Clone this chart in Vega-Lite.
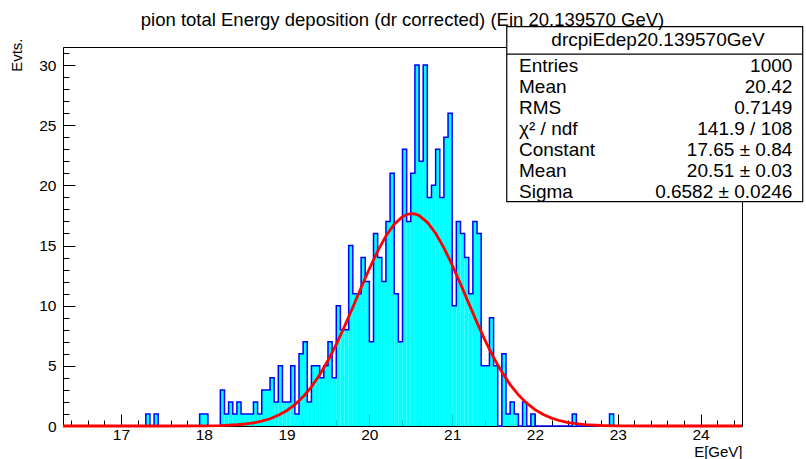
{
  "$schema": "https://vega.github.io/schema/vega-lite/v6.json",
  "width": 679,
  "height": 379,
  "autosize": {"type": "none"},
  "padding": {"left": 63, "top": 47, "right": 64, "bottom": 33},
  "background": "white",
  "config": {"view": {"stroke": "black", "strokeWidth": 1}, "font": "Liberation Sans"},
  "title": {"text": "pion total Energy deposition (dr corrected) (Ein 20.139570 GeV)", "font": "Liberation Sans", "fontSize": 18.5, "fontWeight": "normal", "color": "black", "anchor": "middle", "frame": "group", "baseline": "bottom", "offset": -22},
  "datasets": {
    "hist": [
      {"lo": 17.25, "hi": 17.30, "n": 0}, {"lo": 17.30, "hi": 17.35, "n": 1}, {"lo": 17.35, "hi": 17.40, "n": 0}, {"lo": 17.40, "hi": 17.45, "n": 1}, {"lo": 17.45, "hi": 17.50, "n": 0},
      {"lo": 17.95, "hi": 18.00, "n": 1}, {"lo": 18.00, "hi": 18.05, "n": 1}, {"lo": 18.05, "hi": 18.10, "n": 0},
      {"lo": 18.20, "hi": 18.25, "n": 3}, {"lo": 18.25, "hi": 18.30, "n": 1}, {"lo": 18.30, "hi": 18.35, "n": 2}, {"lo": 18.35, "hi": 18.40, "n": 1}, {"lo": 18.40, "hi": 18.45, "n": 2},
      {"lo": 18.45, "hi": 18.50, "n": 1}, {"lo": 18.50, "hi": 18.55, "n": 1}, {"lo": 18.55, "hi": 18.60, "n": 1}, {"lo": 18.60, "hi": 18.65, "n": 2}, {"lo": 18.65, "hi": 18.70, "n": 1},
      {"lo": 18.70, "hi": 18.75, "n": 3}, {"lo": 18.75, "hi": 18.80, "n": 3}, {"lo": 18.80, "hi": 18.85, "n": 4}, {"lo": 18.85, "hi": 18.90, "n": 2}, {"lo": 18.90, "hi": 18.95, "n": 5},
      {"lo": 18.95, "hi": 19.00, "n": 2}, {"lo": 19.00, "hi": 19.05, "n": 2}, {"lo": 19.05, "hi": 19.10, "n": 5}, {"lo": 19.10, "hi": 19.15, "n": 1}, {"lo": 19.15, "hi": 19.20, "n": 6},
      {"lo": 19.20, "hi": 19.25, "n": 7}, {"lo": 19.25, "hi": 19.30, "n": 2}, {"lo": 19.30, "hi": 19.35, "n": 5}, {"lo": 19.35, "hi": 19.40, "n": 5}, {"lo": 19.40, "hi": 19.45, "n": 4},
      {"lo": 19.45, "hi": 19.50, "n": 5}, {"lo": 19.50, "hi": 19.55, "n": 7}, {"lo": 19.55, "hi": 19.60, "n": 4}, {"lo": 19.60, "hi": 19.65, "n": 10}, {"lo": 19.65, "hi": 19.70, "n": 8},
      {"lo": 19.70, "hi": 19.75, "n": 8}, {"lo": 19.75, "hi": 19.80, "n": 15}, {"lo": 19.80, "hi": 19.85, "n": 11}, {"lo": 19.85, "hi": 19.90, "n": 11}, {"lo": 19.90, "hi": 19.95, "n": 14},
      {"lo": 19.95, "hi": 20.00, "n": 12}, {"lo": 20.00, "hi": 20.05, "n": 7}, {"lo": 20.05, "hi": 20.10, "n": 16}, {"lo": 20.10, "hi": 20.15, "n": 14}, {"lo": 20.15, "hi": 20.20, "n": 12},
      {"lo": 20.20, "hi": 20.25, "n": 17}, {"lo": 20.25, "hi": 20.30, "n": 21}, {"lo": 20.30, "hi": 20.35, "n": 11}, {"lo": 20.35, "hi": 20.40, "n": 7}, {"lo": 20.40, "hi": 20.45, "n": 23},
      {"lo": 20.45, "hi": 20.50, "n": 17}, {"lo": 20.50, "hi": 20.55, "n": 21}, {"lo": 20.55, "hi": 20.60, "n": 30}, {"lo": 20.60, "hi": 20.65, "n": 22}, {"lo": 20.65, "hi": 20.70, "n": 30},
      {"lo": 20.70, "hi": 20.75, "n": 19}, {"lo": 20.75, "hi": 20.80, "n": 20}, {"lo": 20.80, "hi": 20.85, "n": 23}, {"lo": 20.85, "hi": 20.90, "n": 19}, {"lo": 20.90, "hi": 20.95, "n": 24},
      {"lo": 20.95, "hi": 21.00, "n": 26}, {"lo": 21.00, "hi": 21.05, "n": 10}, {"lo": 21.05, "hi": 21.10, "n": 17}, {"lo": 21.10, "hi": 21.15, "n": 16}, {"lo": 21.15, "hi": 21.20, "n": 14},
      {"lo": 21.20, "hi": 21.25, "n": 11}, {"lo": 21.25, "hi": 21.30, "n": 17}, {"lo": 21.30, "hi": 21.35, "n": 16}, {"lo": 21.35, "hi": 21.40, "n": 5}, {"lo": 21.40, "hi": 21.45, "n": 5},
      {"lo": 21.45, "hi": 21.50, "n": 9}, {"lo": 21.50, "hi": 21.55, "n": 5}, {"lo": 21.55, "hi": 21.60, "n": 0}, {"lo": 21.60, "hi": 21.65, "n": 6}, {"lo": 21.65, "hi": 21.70, "n": 1},
      {"lo": 21.70, "hi": 21.75, "n": 2}, {"lo": 21.75, "hi": 21.80, "n": 1}, {"lo": 21.80, "hi": 21.85, "n": 0}, {"lo": 21.85, "hi": 21.90, "n": 2}, {"lo": 21.90, "hi": 21.95, "n": 0},
      {"lo": 21.95, "hi": 22.00, "n": 1}, {"lo": 22.00, "hi": 22.05, "n": 0},
      {"lo": 22.45, "hi": 22.50, "n": 1}, {"lo": 22.50, "hi": 22.55, "n": 0},
      {"lo": 22.90, "hi": 22.95, "n": 1}, {"lo": 22.95, "hi": 23.00, "n": 0}
    ],
    "fit": [
      {"x": 16.3, "f": 0}, {"x": 17.0, "f": 0}, {"x": 17.5, "f": 0.0005}, {"x": 18.0, "f": 0.0123}, {"x": 18.2, "f": 0.037},
      {"x": 18.4, "f": 0.103}, {"x": 18.5, "f": 0.167}, {"x": 18.6, "f": 0.262}, {"x": 18.7, "f": 0.403}, {"x": 18.8, "f": 0.604},
      {"x": 18.9, "f": 0.886}, {"x": 19.0, "f": 1.269}, {"x": 19.1, "f": 1.779}, {"x": 19.2, "f": 2.436}, {"x": 19.3, "f": 3.259},
      {"x": 19.4, "f": 4.259}, {"x": 19.5, "f": 5.438}, {"x": 19.6, "f": 6.787}, {"x": 19.7, "f": 8.278}, {"x": 19.8, "f": 9.865},
      {"x": 19.9, "f": 11.49}, {"x": 20.0, "f": 13.07}, {"x": 20.1, "f": 14.54}, {"x": 20.2, "f": 15.80}, {"x": 20.3, "f": 16.77},
      {"x": 20.4, "f": 17.40}, {"x": 20.45, "f": 17.58}, {"x": 20.5, "f": 17.65}, {"x": 20.55, "f": 17.62}, {"x": 20.6, "f": 17.49},
      {"x": 20.7, "f": 16.93}, {"x": 20.8, "f": 16.02}, {"x": 20.9, "f": 14.81}, {"x": 21.0, "f": 13.38}, {"x": 21.1, "f": 11.81},
      {"x": 21.2, "f": 10.19}, {"x": 21.3, "f": 8.589}, {"x": 21.4, "f": 7.074}, {"x": 21.5, "f": 5.694}, {"x": 21.6, "f": 4.480},
      {"x": 21.7, "f": 3.443}, {"x": 21.8, "f": 2.586}, {"x": 21.9, "f": 1.898}, {"x": 22.0, "f": 1.361}, {"x": 22.1, "f": 0.954},
      {"x": 22.2, "f": 0.654}, {"x": 22.3, "f": 0.437}, {"x": 22.4, "f": 0.286}, {"x": 22.6, "f": 0.114}, {"x": 22.8, "f": 0.042},
      {"x": 23.0, "f": 0.014}, {"x": 23.5, "f": 0.0005}, {"x": 24.5, "f": 0}
    ],
    "stats": [
      {"i": 0, "label": "drcpiEdep20.139570GeV", "value": ""},
      {"i": 1, "label": "Entries", "value": "1000"},
      {"i": 2, "label": "Mean", "value": "20.42"},
      {"i": 3, "label": "RMS", "value": "0.7149"},
      {"i": 4, "label": "χ² / ndf", "value": "141.9 / 108"},
      {"i": 5, "label": "Constant", "value": "17.65 ± 0.84"},
      {"i": 6, "label": "Mean", "value": "20.51 ± 0.03"},
      {"i": 7, "label": "Sigma", "value": "0.6582 ± 0.0246"}
    ]
  },
  "layer": [
    {
      "data": {"name": "hist"},
      "mark": {"type": "rect", "fill": "#00ffff", "strokeWidth": 0},
      "encoding": {
        "x": {"field": "lo", "type": "quantitative",
          "scale": {"domain": [16.3, 24.5], "nice": false, "zero": false},
          "axis": {
            "orient": "bottom",
            "values": [17, 18, 19, 20, 21, 22, 23, 24],
            "format": "d",
            "tickSize": -12, "tickColor": "black", "tickWidth": 1, "domain": false, "grid": false,
            "labelFont": "Liberation Sans", "labelFontSize": 15.5, "labelColor": "black", "labelPadding": 13,
            "labelOverlap": false, "labelFlush": false, "labelBaseline": "top",
            "title": "E[GeV]", "titleFont": "Liberation Sans", "titleFontSize": 15, "titleFontWeight": "normal", "titleColor": "black",
            "titleX": 679, "titleY": 25, "titleAlign": "right", "titleBaseline": "middle"
          }},
        "x2": {"field": "hi"},
        "y": {"field": "n", "type": "quantitative",
          "scale": {"domain": [0, 31.5], "nice": false},
          "axis": {
            "orient": "left",
            "values": [0, 5, 10, 15, 20, 25, 30],
            "format": "d",
            "tickSize": -12, "tickColor": "black", "tickWidth": 1, "domain": false, "grid": false,
            "labelFont": "Liberation Sans", "labelFontSize": 15.5, "labelColor": "black", "labelPadding": 19,
            "labelOverlap": false, "labelFlush": false,
            "title": "Evts.", "titleFont": "Liberation Sans", "titleFontSize": 15, "titleFontWeight": "normal", "titleColor": "black",
            "titleX": -47, "titleY": -9, "titleAngle": -90, "titleAlign": "right", "titleBaseline": "middle"
          }},
        "y2": {"datum": 0}
      }
    },
    {
      "data": {"name": "hist"},
      "mark": {"type": "line", "interpolate": "step-after", "color": "#0000ff", "strokeWidth": 1.5},
      "encoding": {
        "x": {"field": "lo", "type": "quantitative",
          "axis": {
            "orient": "bottom",
            "values": [16.4, 16.6, 16.8, 17.2, 17.4, 17.6, 17.8, 18.2, 18.4, 18.6, 18.8, 19.2, 19.4, 19.6, 19.8, 20.2, 20.4, 20.6, 20.8, 21.2, 21.4, 21.6, 21.8, 22.2, 22.4, 22.6, 22.8, 23.2, 23.4, 23.6, 23.8, 24.2, 24.4],
            "labels": false, "tickSize": -6, "tickColor": "black", "tickWidth": 1, "domain": false, "grid": false, "title": null
          }},
        "y": {"field": "n", "type": "quantitative",
          "scale": {"domain": [0, 31.5], "nice": false},
          "axis": {
            "orient": "left",
            "values": [1, 2, 3, 4, 6, 7, 8, 9, 11, 12, 13, 14, 16, 17, 18, 19, 21, 22, 23, 24, 26, 27, 28, 29, 31],
            "labels": false, "tickSize": -6, "tickColor": "black", "tickWidth": 1, "domain": false, "grid": false, "title": null
          }}
      }
    },
    {
      "data": {"name": "fit"},
      "mark": {"type": "line", "color": "#ff0000", "strokeWidth": 2.8},
      "encoding": {
        "x": {"field": "x", "type": "quantitative", "axis": null},
        "y": {"field": "f", "type": "quantitative", "scale": {"domain": [0, 31.5], "nice": false}, "axis": null}
      }
    },
    {
      "data": {"values": [{}]},
      "mark": {"type": "rect", "fill": "white", "stroke": "black", "strokeWidth": 1.2},
      "encoding": {
        "x": {"datum": 21.659, "axis": null}, "x2": {"datum": 25.233},
        "y": {"datum": 33.19, "scale": {"domain": [0, 31.5], "nice": false}, "axis": null}, "y2": {"datum": 18.65}
      }
    },
    {
      "data": {"values": [{}]},
      "mark": {"type": "rule", "color": "black", "strokeWidth": 1.2},
      "encoding": {
        "x": {"datum": 21.659, "axis": null}, "x2": {"datum": 25.233},
        "y": {"datum": 30.9, "scale": {"domain": [0, 31.5], "nice": false}, "axis": null}
      }
    },
    {
      "data": {"name": "stats"},
      "transform": [{"filter": "datum.i === 0"}],
      "mark": {"type": "text", "font": "Liberation Sans", "fontSize": 19, "color": "black", "align": "center", "baseline": "middle", "dy": -4.7},
      "encoding": {
        "x": {"datum": 23.486, "axis": null},
        "y": {"field": "i", "type": "quantitative", "scale": {"domain": [0.1095, 18.157], "reverse": true, "nice": false, "zero": false}, "axis": null},
        "text": {"field": "label"}
      }
    },
    {
      "data": {"name": "stats"},
      "transform": [{"filter": "datum.i > 0"}],
      "mark": {"type": "text", "font": "Liberation Sans", "fontSize": 19, "color": "black", "align": "left", "baseline": "middle"},
      "encoding": {
        "x": {"datum": 21.807, "axis": null},
        "y": {"field": "i", "type": "quantitative", "scale": {"domain": [0.1095, 18.157], "reverse": true, "nice": false, "zero": false}, "axis": null},
        "text": {"field": "label"}
      }
    },
    {
      "data": {"name": "stats"},
      "transform": [{"filter": "datum.i > 0"}],
      "mark": {"type": "text", "font": "Liberation Sans", "fontSize": 19, "color": "black", "align": "right", "baseline": "middle"},
      "encoding": {
        "x": {"datum": 25.108, "axis": null},
        "y": {"field": "i", "type": "quantitative", "scale": {"domain": [0.1095, 18.157], "reverse": true, "nice": false, "zero": false}, "axis": null},
        "text": {"field": "value"}
      }
    }
  ],
  "resolve": {"scale": {"y": "independent"}, "axis": {"x": "independent", "y": "independent"}}
}
